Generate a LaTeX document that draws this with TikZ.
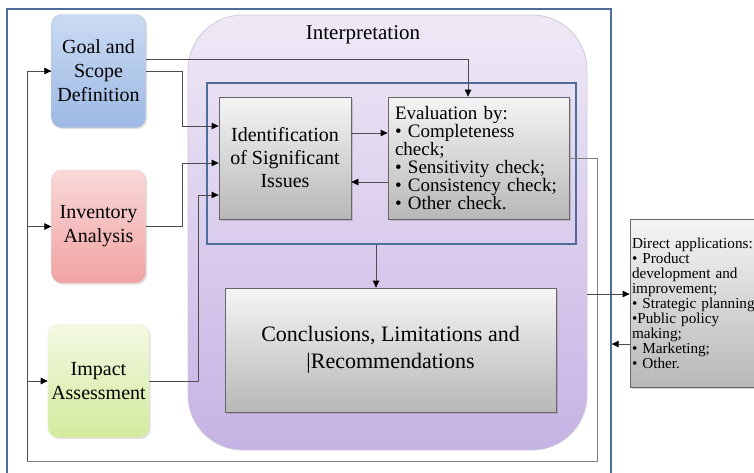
\documentclass[tikz,border=0pt]{standalone}
\usepackage{fontspec}
\setmainfont{Liberation Serif}
\usetikzlibrary{arrows.meta,shadows}
\definecolor{frameblue}{HTML}{4F6D9A}
\definecolor{goaltop}{HTML}{CADAF2}
\definecolor{goalbot}{HTML}{9DB9E4}
\definecolor{invtop}{HTML}{F9D8D8}
\definecolor{invbot}{HTML}{F1A3A3}
\definecolor{imptop}{HTML}{F3F9E3}
\definecolor{impbot}{HTML}{D3EA9C}
\definecolor{purptop}{HTML}{EFE9F6}
\definecolor{purpbot}{HTML}{C6B2E4}
\tikzset{
  phase/.style={rounded corners=10pt, align=center, minimum width=94pt, minimum height=113pt,
    font=\fontsize{20}{24}\selectfont, drop shadow={shadow xshift=1.5pt, shadow yshift=-1.5pt, opacity=0.25}},
  greybox/.style={draw=black!60, line width=0.8pt, top color=black!4, bottom color=black!28,
    drop shadow={shadow xshift=2pt, shadow yshift=-2pt, opacity=0.35}},
  link/.style={draw=black!70, line width=0.8pt},
  arr/.style={link, -{Triangle[length=7pt,width=6.5pt,color=black]}},
}

\begin{document}
\begin{tikzpicture}[x=1pt,y=-1pt]
\useasboundingbox (0,0) rectangle (754,472);
\node[draw=frameblue, line width=1.4pt, minimum width=604pt, minimum height=480pt] (frame) at (309,249) {};
\coordinate (loopL) at (27,461);
\coordinate (loopR) at (597,461);
% life cycle phases
\node[phase, draw=goalbot!80!black!60, top color=goaltop, bottom color=goalbot] (goal) at (98.5,71) {Goal and\\Scope\\Definition};
\node[phase, draw=invbot!80!black!40, top color=invtop, bottom color=invbot] (inv) at (98.5,226.5) {Inventory\\Analysis};
\node[phase, draw=impbot!80!black!30, top color=imptop, bottom color=impbot] (imp) at (98.5,381) {Impact\\Assessment};
% interpretation
\node[draw=purpbot!80!black!50, line width=0.8pt, rounded corners=55pt, top color=purptop, bottom color=purpbot,
  minimum width=399pt, minimum height=435pt] (interp) at (387.5,232.5) {};
\node[font=\fontsize{21}{24}\selectfont] (title) at (363,35) {Interpretation};
\node[draw=frameblue, line width=1.4pt, minimum width=369pt, minimum height=161pt] (zone) at (391.5,163.5) {};
\node[greybox, minimum width=132pt, minimum height=122pt, align=center,
  font=\fontsize{20}{23}\selectfont] (ident) at (285,158) {Identification\\of Significant\\Issues};
\node[greybox, minimum width=181pt, minimum height=122pt, text width=167pt, inner xsep=7pt, align=left,
  font=\fontsize{19}{18}\selectfont] (eval) at (478.5,158)
  {Evaluation by:\\• Completeness\\check;\\• Sensitivity check;\\• Consistency check;\\• Other check.};
\node[greybox, minimum width=331pt, minimum height=124pt, align=center,
  font=\fontsize{22}{27}\selectfont] (concl) at (390.5,350) {Conclusions, Limitations and\\|Recommendations};
\node[greybox, minimum width=155pt, minimum height=168pt, text width=151pt, inner xsep=1.5pt, align=left,
  font=\fontsize{15.2}{15}\selectfont] (apps) at (707.5,303)
  {Direct applications:\\• Product\\development and\\improvement;\\• Strategic planning\\•Public policy\\making;\\• Marketing;\\• Other.};
% connectors
\draw[arr] ([yshift=12pt]goal.east) -| ([xshift=-10.5pt]eval.north);
\draw[arr] (goal.east) -- ++(37,0) |- ([yshift=32pt]ident.west);
\draw[arr] (inv.east) -- ++(37,0) |- ([yshift=-5pt]ident.west);
\draw[arr] (imp.east) -- ++(49,0) |- ([yshift=-37pt]ident.west);
\draw[arr] ([yshift=25pt]ident.east) -- ([yshift=25pt]eval.west);
\draw[arr] ([yshift=-24pt]eval.west) -- ([yshift=-24pt]ident.east);
\draw[arr] ([xshift=-15.5pt]zone.south) -- ([xshift=-15.5pt]zone.south |- concl.north);
\draw[link, black!50] (eval.east) -| (loopR) -- (loopL) |- (goal.west);
\draw[arr] (loopL) |- (goal.west);
\draw[arr] (loopL |- inv.west) -- (inv.west);
\draw[arr] (loopL |- imp.west) -- (imp.west);
\draw[arr] ([yshift=9pt]apps.west -| interp.east) -- ([yshift=9pt]apps.west);
\draw[arr] ([yshift=-41pt]apps.west) -- ([yshift=-41pt]apps.west -| frame.east);
\end{tikzpicture}
\end{document}
